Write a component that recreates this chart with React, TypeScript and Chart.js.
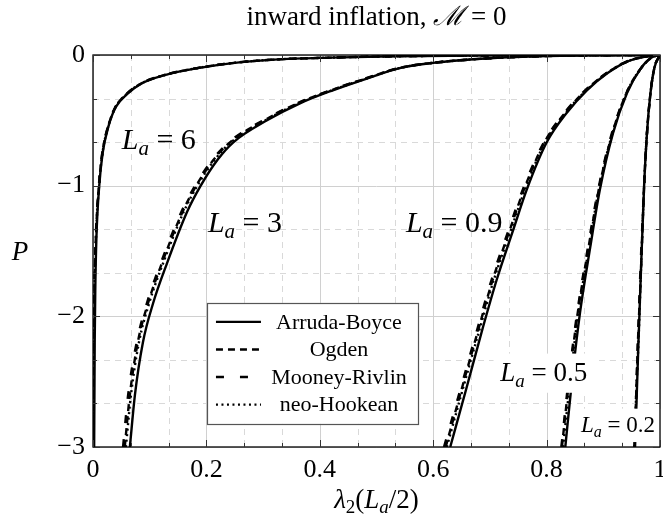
import React, { useEffect, useRef } from 'react';
import { Chart, registerables } from 'chart.js';

Chart.register(...registerables);

// ---------- axis ticks ----------
const X_TICKS = [0, 0.2, 0.4, 0.6, 0.8, 1];
const X_TICK_LABELS = ['0', '0.2', '0.4', '0.6', '0.8', '1'];
const Y_TICKS = [-3, -2, -1, 0];
const Y_TICK_LABELS = ['\u22123', '\u22122', '\u22121', '0'];
const X_MINOR = [1 / 15, 2 / 15, 4 / 15, 5 / 15, 7 / 15, 8 / 15, 10 / 15, 11 / 15, 13 / 15, 14 / 15];
const Y_MINOR = [-1 / 3, -2 / 3, -4 / 3, -5 / 3, -7 / 3, -8 / 3];

// ---------- models ----------
const MODEL_NAMES = ['Arruda-Boyce', 'Ogden', 'Mooney-Rivlin', 'neo-Hookean'];
const MODEL_DASHES: number[][] = [[], [7, 5], [8, 16], [2, 3.5]];

// ---------- data: P levels and lambda_2 values for each model ----------
// L_a = 6
const P_LA6 = [-3, -2.6, -2.2, -1.8, -1.4, -1.0, -0.75, -0.55, -0.4, -0.3, -0.22, -0.15, -0.1, -0.06, -0.035, -0.02, -0.01, -0.004, 0];
const AB_LA6 = [0.002, 0.0025, 0.003, 0.004, 0.006, 0.011, 0.017, 0.027, 0.04, 0.06, 0.085, 0.13, 0.185, 0.25, 0.32, 0.42, 0.53, 0.68, 1.0];
const OG_LA6 = [0.0, 0.0005, 0.0013, 0.0025, 0.005, 0.0105, 0.0165, 0.0265, 0.0395, 0.059, 0.084, 0.129, 0.184, 0.249, 0.32, 0.42, 0.53, 0.68, 1.0];
const MR_LA6 = [0.0, 0.0004, 0.0012, 0.0024, 0.0048, 0.0103, 0.0163, 0.0262, 0.0392, 0.0585, 0.0835, 0.128, 0.183, 0.248, 0.319, 0.42, 0.53, 0.68, 1.0];
const NH_LA6 = [0.0005, 0.001, 0.0016, 0.0028, 0.0052, 0.0107, 0.0167, 0.0267, 0.0397, 0.0592, 0.0842, 0.129, 0.184, 0.249, 0.32, 0.42, 0.53, 0.68, 1.0];

// L_a = 3
const P_LA3 = [-3, -2.6, -2.2, -1.9, -1.6, -1.2, -1.0, -0.8, -0.67, -0.5, -0.37, -0.27, -0.18, -0.1, -0.06, -0.025, -0.008, -0.002, 0];
const AB_LA3 = [0.065, 0.074, 0.088, 0.106, 0.13, 0.166, 0.19, 0.22, 0.247, 0.307, 0.365, 0.423, 0.483, 0.541, 0.6, 0.7, 0.8, 0.9, 1.0];
const OG_LA3 = [0.056, 0.065, 0.079, 0.097, 0.121, 0.158, 0.182, 0.213, 0.241, 0.302, 0.361, 0.42, 0.481, 0.54, 0.6, 0.7, 0.8, 0.9, 1.0];
const MR_LA3 = [0.053, 0.062, 0.077, 0.095, 0.119, 0.156, 0.18, 0.211, 0.239, 0.3, 0.36, 0.419, 0.48, 0.539, 0.599, 0.7, 0.8, 0.9, 1.0];
const NH_LA3 = [0.058, 0.067, 0.081, 0.099, 0.123, 0.16, 0.184, 0.215, 0.243, 0.304, 0.362, 0.421, 0.482, 0.54, 0.6, 0.7, 0.8, 0.9, 1.0];

// L_a = 0.9
const P_LA09 = [-3, -2.56, -2.08, -1.72, -1.34, -1.03, -0.67, -0.44, -0.27, -0.14, -0.05, -0.01, 0];
const AB_LA09 = [0.63, 0.658, 0.688, 0.712, 0.741, 0.765, 0.8, 0.836, 0.871, 0.907, 0.942, 0.977, 1.0];
const OG_LA09 = [0.622, 0.65, 0.681, 0.705, 0.735, 0.76, 0.796, 0.833, 0.869, 0.906, 0.942, 0.977, 1.0];
const MR_LA09 = [0.619, 0.648, 0.679, 0.703, 0.733, 0.758, 0.795, 0.832, 0.868, 0.905, 0.941, 0.977, 1.0];
const NH_LA09 = [0.624, 0.652, 0.683, 0.707, 0.737, 0.762, 0.797, 0.834, 0.87, 0.906, 0.942, 0.977, 1.0];

// L_a = 0.5
const P_LA05 = [-3, -2.48, -1.97, -1.47, -1.03, -0.6, -0.29, -0.11, -0.02, 0];
const AB_LA05 = [0.833, 0.845, 0.859, 0.877, 0.894, 0.917, 0.942, 0.965, 0.985, 1.0];
const OG_LA05 = [0.827, 0.84, 0.855, 0.874, 0.892, 0.916, 0.941, 0.965, 0.985, 1.0];
const MR_LA05 = [0.826, 0.839, 0.854, 0.873, 0.891, 0.915, 0.941, 0.965, 0.985, 1.0];
const NH_LA05 = [0.829, 0.842, 0.856, 0.875, 0.892, 0.916, 0.941, 0.965, 0.985, 1.0];

// L_a = 0.2
const P_LA02 = [-3, -2.6, -2.2, -1.7, -1.0, -0.6, -0.3, -0.1, 0];
const AB_LA02 = [0.956, 0.959, 0.962, 0.966, 0.972, 0.977, 0.983, 0.99, 1.0];
const OG_LA02 = [0.955, 0.958, 0.961, 0.966, 0.972, 0.977, 0.983, 0.99, 1.0];
const MR_LA02 = [0.955, 0.958, 0.961, 0.965, 0.972, 0.977, 0.983, 0.99, 1.0];
const NH_LA02 = [0.955, 0.958, 0.962, 0.966, 0.972, 0.977, 0.983, 0.99, 1.0];

const GROUPS = [
  { p: P_LA6, lam: [AB_LA6, OG_LA6, MR_LA6, NH_LA6] },
  { p: P_LA3, lam: [AB_LA3, OG_LA3, MR_LA3, NH_LA3] },
  { p: P_LA09, lam: [AB_LA09, OG_LA09, MR_LA09, NH_LA09] },
  { p: P_LA05, lam: [AB_LA05, OG_LA05, MR_LA05, NH_LA05] },
  { p: P_LA02, lam: [AB_LA02, OG_LA02, MR_LA02, NH_LA02] },
];

// curve labels (value of L_a)
const LA_VALUES = ['6', '3', '0.9', '0.5', '0.2'];

// ---------- presentation ----------
const FONT = '"Liberation Serif", "DejaVu Serif", serif';
const ANNOTATIONS = [
  { x: 0.116, y: -0.64, size: 30, box: false },
  { x: 0.268, y: -1.28, size: 30, box: false },
  { x: 0.637, y: -1.28, size: 30, box: false },
  { x: 0.795, y: -2.43, size: 27, box: true },
  { x: 0.926, y: -2.83, size: 23, box: true },
];

type Part = [string, string]; // [text, style] r | i | sr | si

function drawRich(ctx: CanvasRenderingContext2D, parts: Part[], x: number, y: number, size: number, align: 'left' | 'center' | 'right') {
  const fontFor = (st: string) => {
    const sub = st[0] === 's';
    const it = st.indexOf('i') >= 0;
    return `${it ? 'italic ' : ''}${sub ? Math.round(size * 0.7) : size}px ${FONT}`;
  };
  const widths = parts.map(([t, st]) => {
    ctx.font = fontFor(st);
    return ctx.measureText(t).width;
  });
  const total = widths.reduce((a, b) => a + b, 0);
  let cx = align === 'left' ? x : align === 'center' ? x - total / 2 : x - total;
  ctx.textAlign = 'left';
  ctx.textBaseline = 'alphabetic';
  parts.forEach(([t, st], i) => {
    ctx.font = fontFor(st);
    const dy = st[0] === 's' ? size * 0.2 : 0;
    ctx.fillText(t, cx, y + dy);
    cx += widths[i];
  });
  return total;
}

const overlay = {
  id: 'overlay',
  beforeDatasetsDraw(chart: any) {
    const { ctx, chartArea: a, scales } = chart;
    const xs = scales.x, ys = scales.y;
    ctx.save();
    ctx.lineWidth = 1;
    // minor dashed grid
    ctx.strokeStyle = '#d9d9d9';
    ctx.setLineDash([6, 5]);
    X_MINOR.forEach((v) => {
      const px = Math.round(xs.getPixelForValue(v)) + 0.5;
      ctx.beginPath(); ctx.moveTo(px, a.top); ctx.lineTo(px, a.bottom); ctx.stroke();
    });
    Y_MINOR.forEach((v) => {
      const py = Math.round(ys.getPixelForValue(v)) + 0.5;
      ctx.beginPath(); ctx.moveTo(a.left, py); ctx.lineTo(a.right, py); ctx.stroke();
    });
    // major solid grid
    ctx.setLineDash([]);
    ctx.strokeStyle = '#d0d0d0';
    X_TICKS.forEach((v) => {
      const px = Math.round(xs.getPixelForValue(v)) + 0.5;
      ctx.beginPath(); ctx.moveTo(px, a.top); ctx.lineTo(px, a.bottom); ctx.stroke();
    });
    Y_TICKS.forEach((v) => {
      const py = Math.round(ys.getPixelForValue(v)) + 0.5;
      ctx.beginPath(); ctx.moveTo(a.left, py); ctx.lineTo(a.right, py); ctx.stroke();
    });
    ctx.restore();
  },
  afterDatasetsDraw(chart: any) {
    const { ctx, chartArea: a, scales } = chart;
    const xs = scales.x, ys = scales.y;
    ctx.save();
    ctx.fillStyle = '#000';

    // curve labels
    ANNOTATIONS.forEach((an, i) => {
      const parts: Part[] = [['L', 'i'], ['a', 'si'], [' = ' + LA_VALUES[i], 'r']];
      const cx = xs.getPixelForValue(an.x);
      const cy = ys.getPixelForValue(an.y);
      const base = cy + an.size * 0.33;
      if (an.box) {
        let w = 0;
        ctx.font = `italic ${an.size}px ${FONT}`; w += ctx.measureText('L').width;
        ctx.font = `italic ${Math.round(an.size * 0.7)}px ${FONT}`; w += ctx.measureText('a').width;
        ctx.font = `${an.size}px ${FONT}`; w += ctx.measureText(' = ' + LA_VALUES[i]).width;
        const padX = an.size * 0.25, padY = an.size * 0.45;
        ctx.fillStyle = '#fff';
        ctx.fillRect(cx - w / 2 - padX, cy - padY - an.size * 0.25, w + 2 * padX, an.size * 0.5 + 2 * padY + an.size * 0.05);
        ctx.fillStyle = '#000';
      }
      drawRich(ctx, parts, cx, base, an.size, 'center');
    });

    // legend
    const lx = xs.getPixelForValue(0.201);
    const ly = ys.getPixelForValue(-1.897);
    const lw = 211, rowH = 27.6, lh = 121;
    ctx.fillStyle = '#fff';
    ctx.fillRect(lx, ly, lw, lh);
    ctx.strokeStyle = '#555';
    ctx.lineWidth = 1.2;
    ctx.strokeRect(Math.round(lx) + 0.5, Math.round(ly) + 0.5, lw, lh);
    MODEL_NAMES.forEach((name, i) => {
      const yy = ly + 19 + i * rowH;
      ctx.strokeStyle = '#000';
      ctx.lineWidth = 2.4;
      ctx.setLineDash(MODEL_DASHES[i]);
      ctx.beginPath(); ctx.moveTo(lx + 9, yy); ctx.lineTo(lx + 54, yy); ctx.stroke();
      ctx.setLineDash([]);
      ctx.fillStyle = '#000';
      ctx.font = `22px ${FONT}`;
      ctx.textAlign = 'center';
      ctx.textBaseline = 'middle';
      ctx.fillText(name, lx + 132, yy + 1);
    });

    // frame
    ctx.strokeStyle = '#000';
    ctx.lineWidth = 1.3;
    ctx.setLineDash([]);
    ctx.strokeRect(a.left, a.top, a.right - a.left, a.bottom - a.top);

    // tick marks (inside, mirrored)
    ctx.lineWidth = 1;
    const tickX = (v: number, len: number) => {
      const px = Math.round(xs.getPixelForValue(v)) + 0.5;
      ctx.beginPath(); ctx.moveTo(px, a.bottom); ctx.lineTo(px, a.bottom - len); ctx.stroke();
      ctx.beginPath(); ctx.moveTo(px, a.top); ctx.lineTo(px, a.top + len); ctx.stroke();
    };
    const tickY = (v: number, len: number) => {
      const py = Math.round(ys.getPixelForValue(v)) + 0.5;
      ctx.beginPath(); ctx.moveTo(a.left, py); ctx.lineTo(a.left + len, py); ctx.stroke();
      ctx.beginPath(); ctx.moveTo(a.right, py); ctx.lineTo(a.right - len, py); ctx.stroke();
    };
    ctx.strokeStyle = '#333';
    X_TICKS.forEach((v) => tickX(v, 7));
    X_MINOR.forEach((v) => tickX(v, 4));
    Y_TICKS.forEach((v) => tickY(v, 7));
    Y_MINOR.forEach((v) => tickY(v, 4));

    // title and axis titles
    ctx.fillStyle = '#000';
    const midX = (a.left + a.right) / 2;
    drawRich(ctx, [['inward inflation, ', 'r'], ['\u2133', 'i'], [' = 0', 'r']], midX, 25, 27, 'center');
    drawRich(ctx, [['\u03bb', 'i'], ['2', 'sr'], ['(', 'r'], ['L', 'i'], ['a', 'si'], ['/2)', 'r']], midX, 508, 27, 'center');
    drawRich(ctx, [['P', 'i']], 20, (a.top + a.bottom) / 2 + 9, 27, 'center');
    ctx.restore();
  },
};

export default function App() {
  const ref = useRef<HTMLCanvasElement>(null);
  useEffect(() => {
    const datasets: any[] = [];
    GROUPS.forEach((g) => {
      g.lam.forEach((lam, m) => {
        datasets.push({
          label: MODEL_NAMES[m],
          data: lam.map((x, k) => ({ x, y: g.p[k] })),
          borderColor: '#000',
          borderWidth: 2.4,
          borderDash: MODEL_DASHES[m],
          pointRadius: 0,
          fill: false,
          cubicInterpolationMode: 'monotone',
        });
      });
    });
    const chart = new Chart(ref.current as HTMLCanvasElement, {
      type: 'line',
      data: { datasets },
      options: {
        animation: false,
        responsive: false,
        devicePixelRatio: 1,
        layout: { padding: { top: 55, right: 3, left: 0, bottom: 0 } },
        plugins: { legend: { display: false }, tooltip: { enabled: false }, title: { display: false } },
        scales: {
          x: {
            type: 'linear',
            min: 0,
            max: 1,
            grid: { display: false, drawTicks: false },
            border: { display: false },
            afterBuildTicks: (s: any) => { s.ticks = X_TICKS.map((v) => ({ value: v })); },
            afterFit: (s: any) => { s.height = 73; s.paddingLeft = 0; s.paddingRight = 0; },
            ticks: {
              autoSkip: false,
              maxRotation: 0,
              padding: 8,
              color: '#000',
              font: { family: FONT, size: 26 },
              callback: (_v: any, i: number) => X_TICK_LABELS[i],
            },
          },
          y: {
            type: 'linear',
            min: -3,
            max: 0,
            grid: { display: false, drawTicks: false },
            border: { display: false },
            afterBuildTicks: (s: any) => { s.ticks = Y_TICKS.map((v) => ({ value: v })); },
            afterFit: (s: any) => { s.width = 93; s.paddingTop = 0; s.paddingBottom = 0; },
            ticks: {
              autoSkip: false,
              padding: 8,
              color: '#000',
              font: { family: FONT, size: 26 },
              callback: (_v: any, i: number) => Y_TICK_LABELS[i],
            },
          },
        },
      } as any,
      plugins: [overlay],
    });
    return () => chart.destroy();
  }, []);
  return (
    <div style={{ position: 'fixed', left: 0, top: 0, width: 663, height: 520, background: '#fff' }}>
      <canvas ref={ref} width={663} height={520} style={{ display: 'block', width: 663, height: 520 }} />
    </div>
  );
}
